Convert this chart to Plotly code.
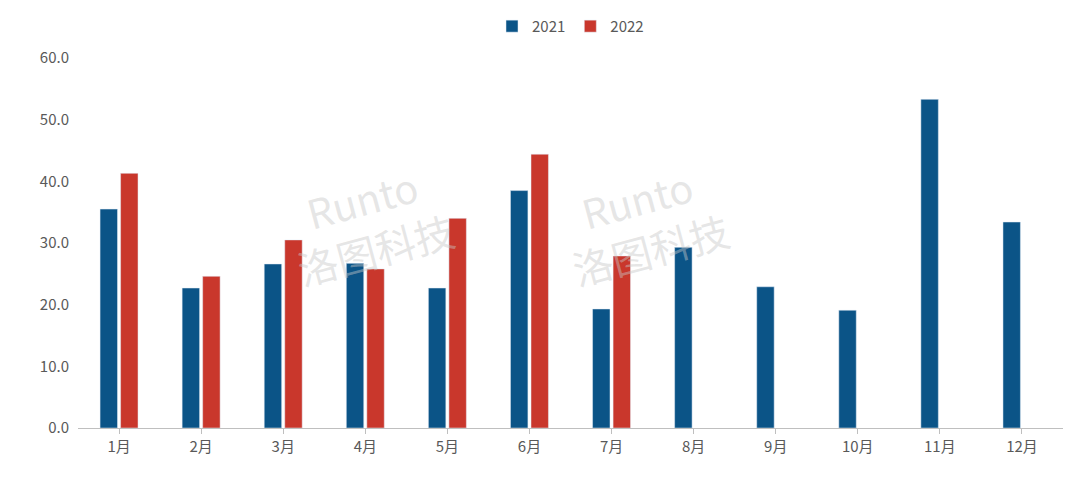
import plotly.graph_objects as go

months = ["1月", "2月", "3月", "4月", "5月", "6月", "7月", "8月", "9月", "10月", "11月", "12月"]
sales_2021 = [35.5, 22.7, 26.6, 26.7, 22.7, 38.5, 19.3, 29.3, 22.9, 19.1, 53.3, 33.4]
sales_2022 = [41.3, 24.6, 30.5, 25.8, 34.0, 44.4, 27.9, None, None, None, None, None]

fig = go.Figure()
fig.add_trace(go.Bar(x=months, y=sales_2021, name="2021", marker_color="#0b5487"))
fig.add_trace(go.Bar(x=months, y=sales_2022, name="2022", marker_color="#c9372c"))

# faint watermarks
for x in [0.2, 0.67]:
    fig.add_annotation(text="Runto<br>洛图科技", x=x, y=0.55, xref="paper", yref="paper",
                       showarrow=False, textangle=-15,
                       font=dict(size=40, color="rgba(200,200,200,0.45)", family="Noto Sans CJK SC"))

fig.update_layout(
    width=1080, height=479,
    margin=dict(l=70, r=25, t=50, b=59, autoexpand=False),
    plot_bgcolor="white", paper_bgcolor="white",
    barmode="group", bargap=0.5, bargroupgap=0.15,
    font=dict(family="Noto Sans CJK SC", size=15, color="#595959"),
    legend=dict(orientation="h", x=0.5, xanchor="center", y=1.13, yanchor="top",
                font=dict(size=15)),
)
fig.update_yaxes(range=[0, 60], dtick=10, tickformat=".1f", showgrid=False,
                 zeroline=False, ticks="", ticklabelstandoff=8)
fig.update_xaxes(showline=True, linecolor="#bfbfbf", ticks="outside", tickcolor="#bfbfbf")

fig.write_html("out.html")
